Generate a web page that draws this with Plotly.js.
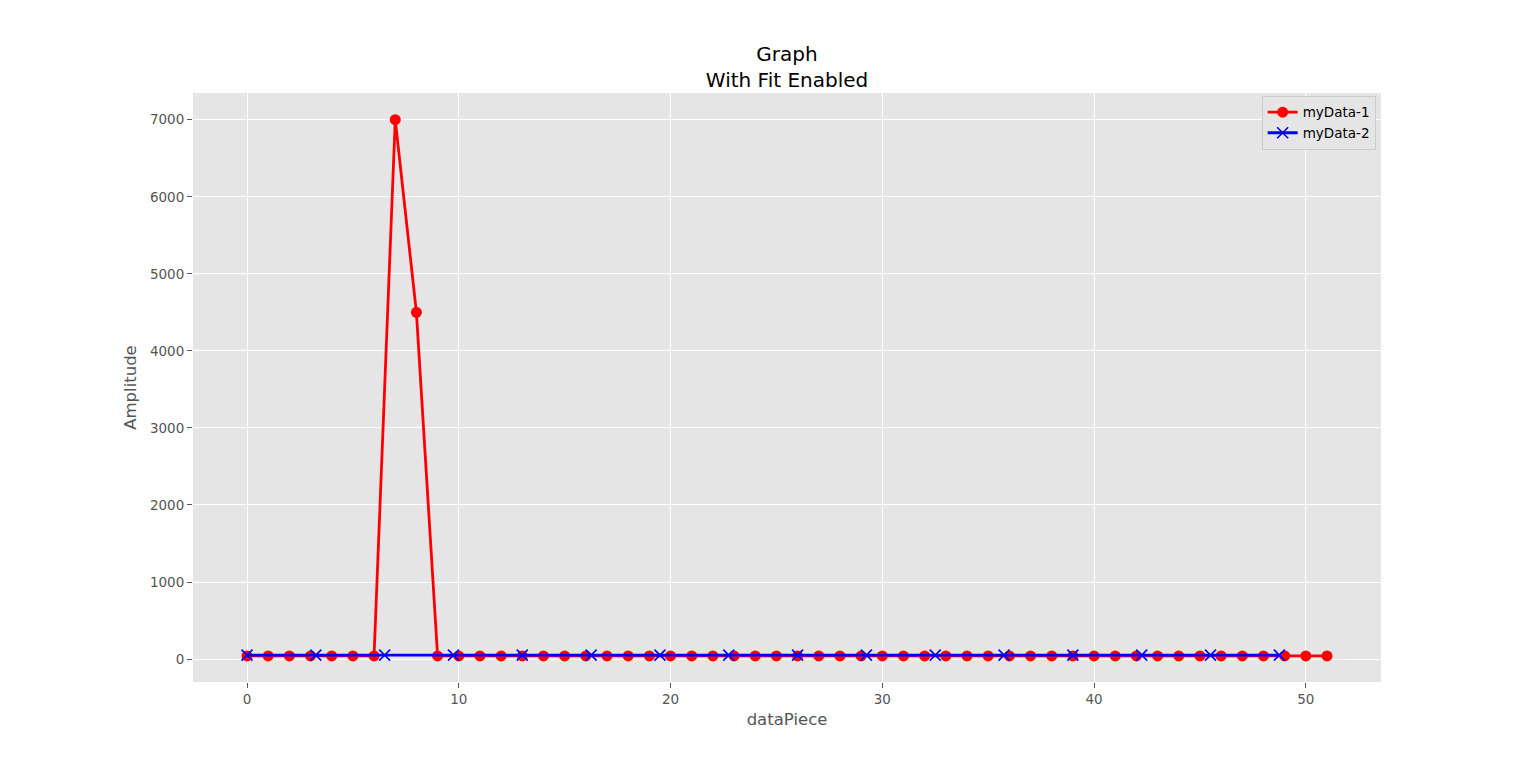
<!DOCTYPE html>
<html><head><meta charset="utf-8">
<script src="https://cdn.plot.ly/plotly-3.0.1.min.js"></script>
<style>html,body{margin:0;padding:0;background:#fff;}#chart{width:1536px;height:767px;}</style>
</head><body><div id="chart"></div>
<script>
const redX = [0,1,2,3,4,5,6,7,8,9,10,11,12,13,14,15,16,17,18,19,20,21,22,23,24,25,26,27,28,29,30,31,32,33,34,35,36,37,38,39,40,41,42,43,44,45,46,47,48,49,50,51];
const redY = [40,40,40,40,40,40,40,7000,4500,40,40,40,40,40,40,40,40,40,40,40,40,40,40,40,40,40,40,40,40,40,40,40,40,40,40,40,40,40,40,40,40,40,40,40,40,40,40,40,40,40,40,40];
const blueX = [0,3.25,6.5,9.75,13,16.25,19.5,22.75,26,29.25,32.5,35.75,39,42.25,45.5,48.75];
const blueY = [50,50,50,50,50,50,50,50,50,50,50,50,50,50,50,50];
const xTicks = [0,10,20,30,40,50];
const yTicks = [0,1000,2000,3000,4000,5000,6000,7000];

const traces = [
  {x: redX, y: redY, name: 'myData-1', mode: 'lines+markers', type: 'scatter',
   line: {color: '#ff0000', width: 2.8}, marker: {symbol: 'circle', size: 11, color: '#ff0000'}},
  {x: blueX, y: blueY, name: 'myData-2', mode: 'lines+markers', type: 'scatter',
   line: {color: '#0000ff', width: 2.8}, marker: {symbol: 'x-thin', size: 11, line: {color: '#0000ff', width: 1.6}, color: '#0000ff'}}
];
const axisCommon = {showline: false, zeroline: false, gridcolor: '#ffffff', gridwidth: 1,
  ticks: 'outside', ticklen: 5, tickcolor: '#555555', tickwidth: 1,
  tickfont: {family: 'DejaVu Sans', size: 13.5, color: '#555555'}};
const layout = {
  width: 1536, height: 767,
  paper_bgcolor: '#ffffff', plot_bgcolor: '#e5e5e5',
  margin: {l: 193, r: 155, t: 93, b: 85},
  title: {text: 'Graph<br>With Fit Enabled', x: 0.5124, xanchor: 'center', y: 0.9205, yanchor: 'top',
    font: {family: 'DejaVu Sans', size: 20, color: '#000000'}},
  xaxis: Object.assign({}, axisCommon, {range: [-2.55, 53.55], tickvals: xTicks, ticktext: xTicks.map(String),
    title: {text: 'dataPiece', standoff: 7, font: {family: 'DejaVu Sans', size: 16.5, color: '#555555'}}}),
  yaxis: Object.assign({}, axisCommon, {range: [-298, 7347], tickvals: yTicks, ticktext: yTicks.map(String),
    title: {text: 'Amplitude', standoff: 9, font: {family: 'DejaVu Sans', size: 16.5, color: '#555555'}}}),
  showlegend: true,
  legend: {x: 0.9955, xanchor: 'right', y: 0.995, yanchor: 'top', bgcolor: '#e5e5e5', bordercolor: '#cccccc', borderwidth: 1,
    font: {family: 'DejaVu Sans', size: 13.5, color: '#000000'}, itemwidth: 30, tracegroupgap: 0}
};
Plotly.newPlot('chart', traces, layout, {displayModeBar: false});
</script></body></html>
